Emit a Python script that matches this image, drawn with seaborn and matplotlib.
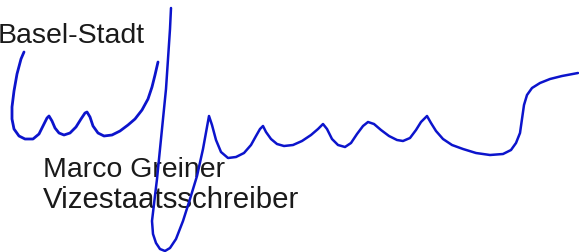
import seaborn as sns
import matplotlib.pyplot as plt
import pandas as pd

# 文字
labels = ['Basel-Stadt', 'Marco Greiner', 'Vizestaatsschreiber']
label_x = [-2, 43, 43]
label_y = [43, 177, 208]
label_size = [20.5, 20.5, 21.2]

# 簽名筆畫 (像素座標, y 向下)
stroke1_x = [24, 21, 17, 14, 12, 12, 14, 19, 25, 33, 39, 43, 47, 49, 52, 55, 59, 64, 70, 76, 81, 85, 87, 90,
             93, 98, 104, 112, 120, 128, 135, 142, 148, 152, 155, 158]
stroke1_y = [53, 60, 75, 92, 108, 120, 130, 137, 140, 140, 135, 127, 119, 117, 122, 129, 134, 136, 134, 128, 120,
             114, 113, 118, 127, 134, 137, 136, 132, 126, 120, 111, 100, 88, 76, 63]

stroke2_x = [171, 170, 168, 166, 163, 160, 157, 154, 152, 153, 156, 160, 165, 170, 176, 183, 190, 197, 203, 207,
             209, 212, 216, 221, 228, 236, 244, 251, 256, 260, 263, 266, 271, 277, 284, 293, 302, 311, 318, 323,
             327, 332, 338, 345, 351, 357, 363, 368, 374, 381, 389, 397, 403, 410, 416, 421, 427, 431, 436, 443,
             452, 463, 476, 490, 503, 511, 516, 520, 522, 524, 527, 532, 540, 550, 562, 578]
stroke2_y = [9, 30, 60, 90, 120, 150, 180, 205, 222, 235, 244, 250, 252, 249, 240, 222, 200, 177, 150, 128, 117,
             126, 141, 153, 159, 158, 154, 146, 137, 130, 127, 133, 140, 145, 147, 146, 142, 136, 130, 125, 130,
             140, 146, 148, 144, 135, 127, 123, 125, 131, 137, 141, 142, 139, 131, 123, 117, 124, 132, 140, 146,
             150, 154, 156, 155, 151, 144, 134, 120, 106, 96, 89, 84, 80, 77, 74]

sig_color = '#0c14cc'

plt.rcParams['font.family'] = ['Liberation Sans', 'DejaVu Sans']
fig = plt.figure(figsize=(5.79, 2.53), dpi=100)
ax = fig.add_axes([0, 0, 1, 1])

for txt, x, y, fs in zip(labels, label_x, label_y, label_size):
    ax.text(x, y, txt, fontsize=fs, color='#1a1a1a', ha='left', va='baseline', zorder=1)

s1 = pd.DataFrame({'x': stroke1_x, 'y': stroke1_y})
s2 = pd.DataFrame({'x': stroke2_x, 'y': stroke2_y})
sns.lineplot(data=s1, x='x', y='y', sort=False, estimator=None, color=sig_color, linewidth=2.0, ax=ax, zorder=3)
sns.lineplot(data=s2, x='x', y='y', sort=False, estimator=None, color=sig_color, linewidth=1.8, ax=ax, zorder=3)
for line in ax.lines:
    line.set_solid_joinstyle('round')
    line.set_solid_capstyle('round')

ax.set_xlim(0, 579)
ax.set_ylim(253, 0)
ax.axis('off')
fig.savefig('out.png', dpi=100, facecolor='white')
